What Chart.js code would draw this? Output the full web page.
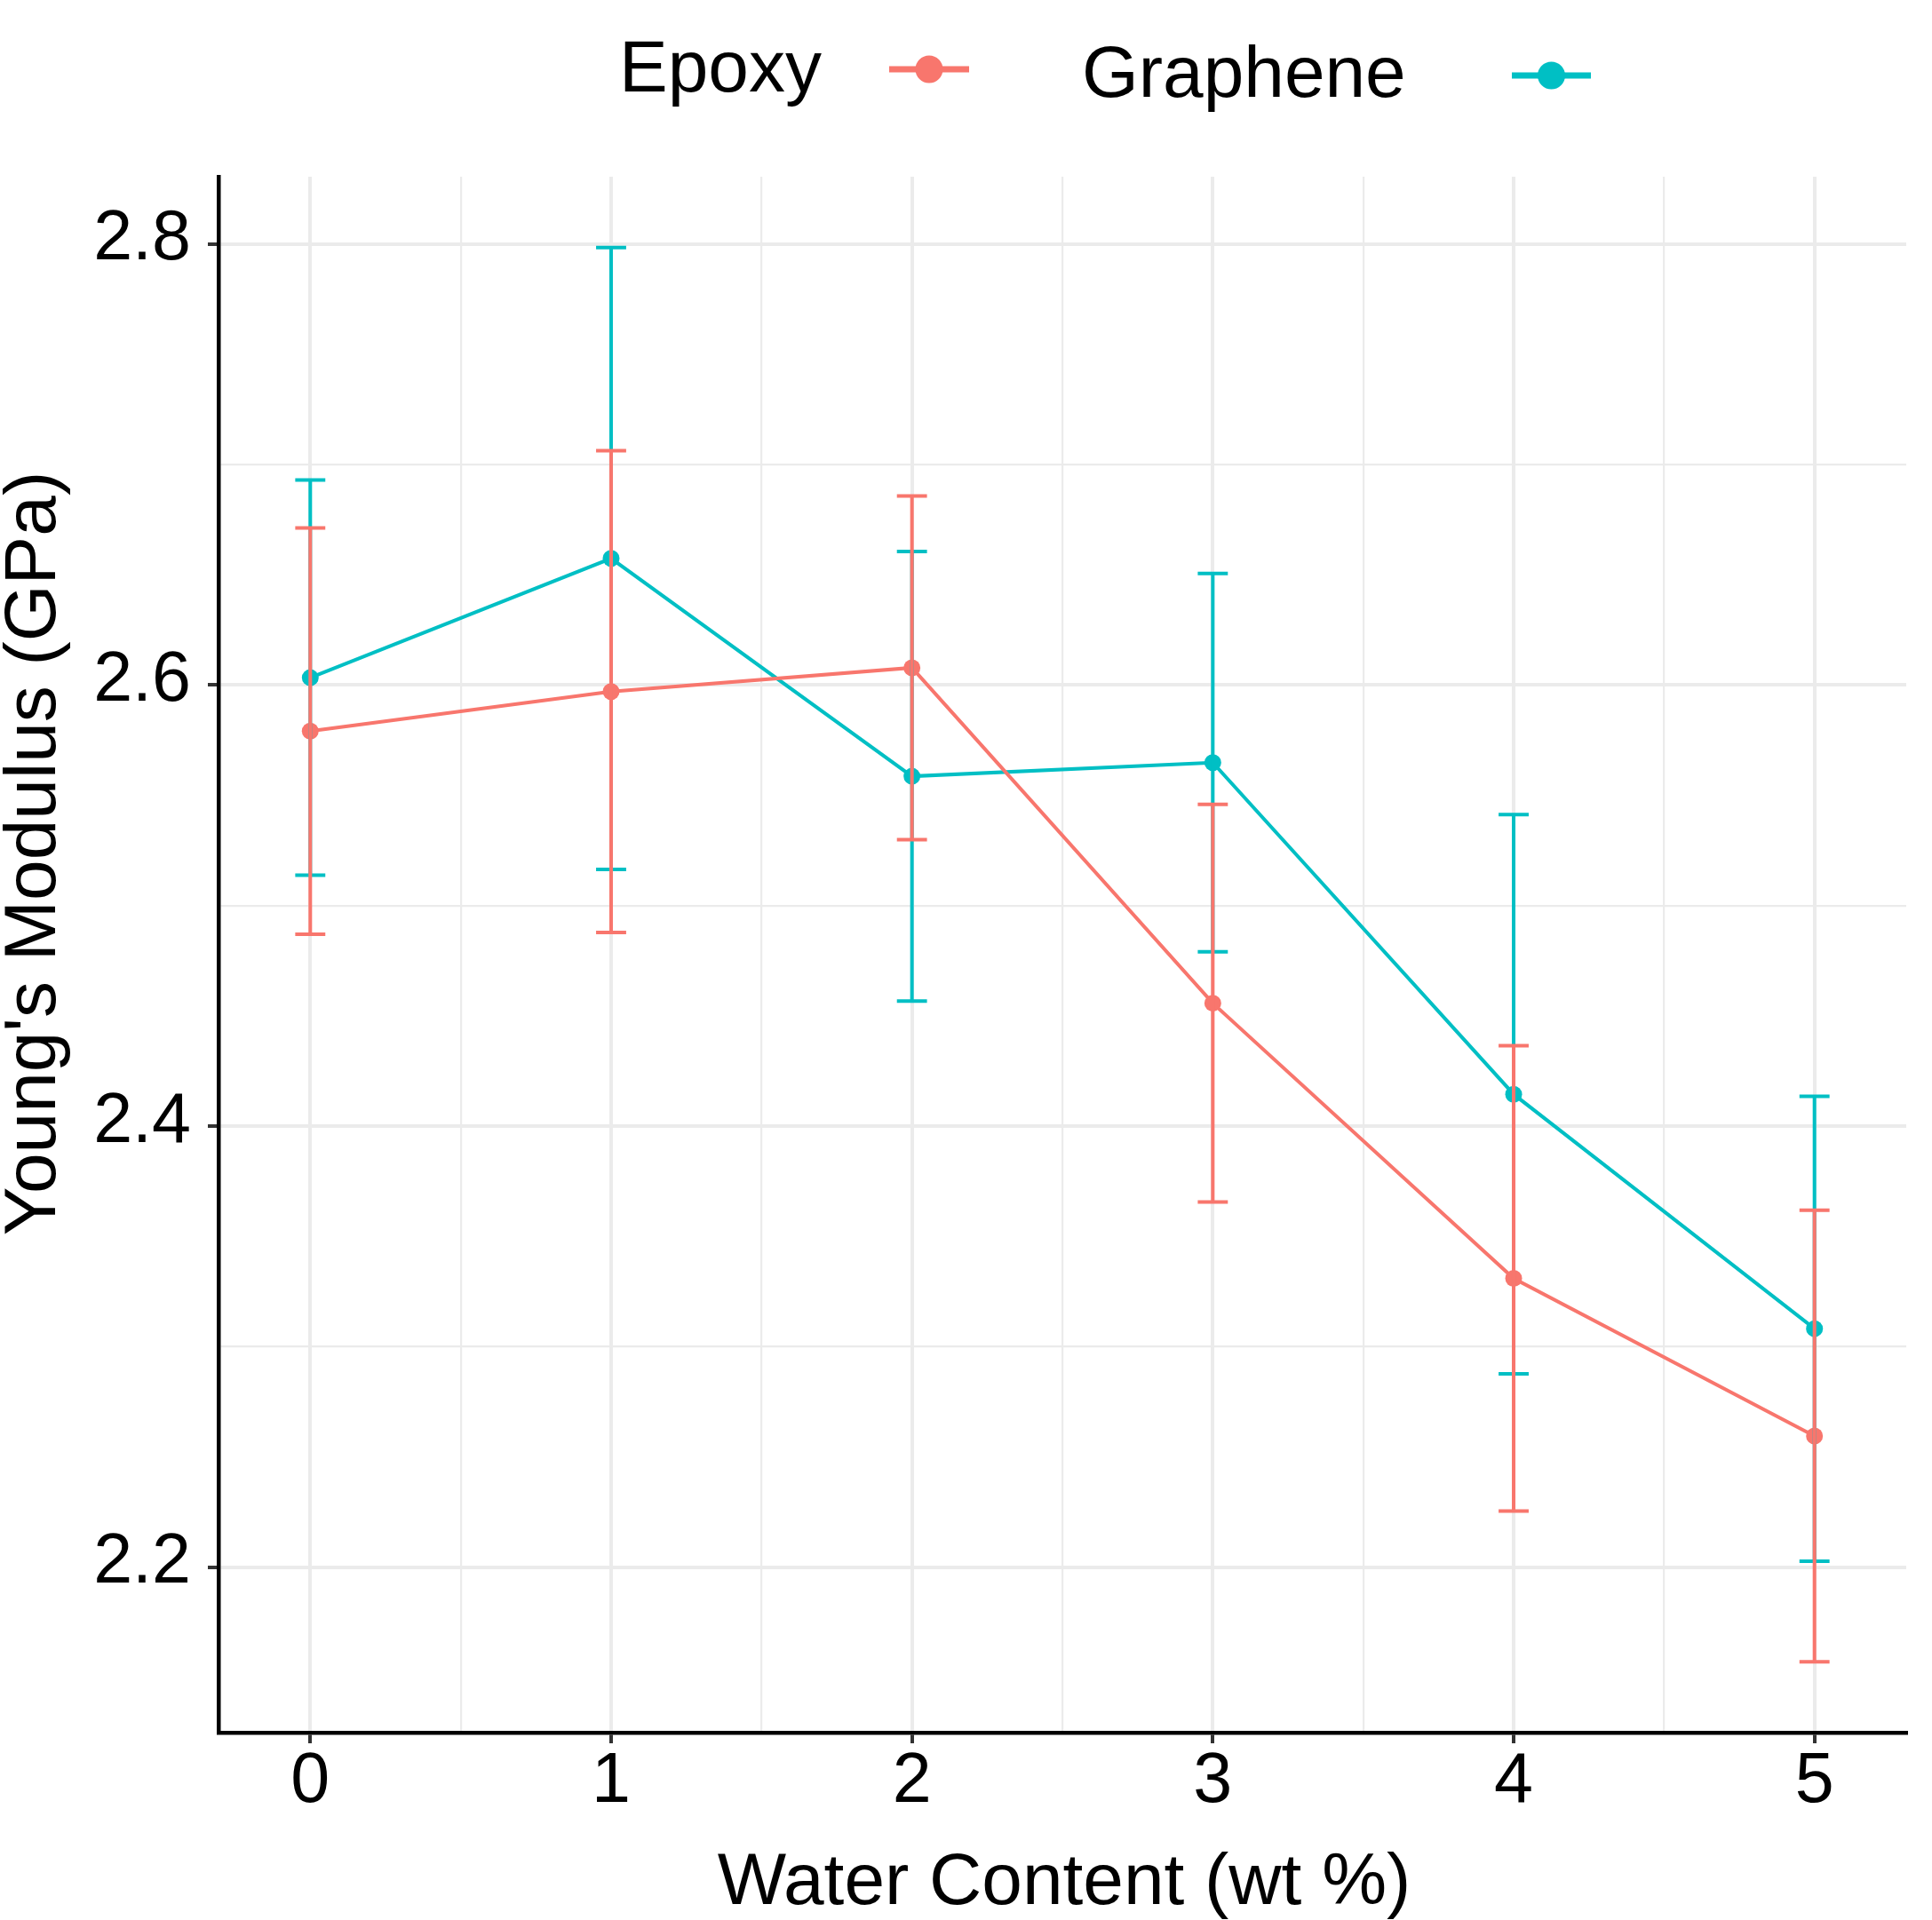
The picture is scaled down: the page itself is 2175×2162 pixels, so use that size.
<!DOCTYPE html>
<html>
<head>
<meta charset="utf-8">
<script src="https://cdn.jsdelivr.net/npm/chart.js@4.4.1/dist/chart.umd.min.js"></script>
<style>
html,body{margin:0;padding:0;background:#ffffff;}
canvas{display:block;}
</style>
</head>
<body>
<canvas id="c" width="2175" height="2162" style="width:2175px;height:2162px"></canvas>
<script>
// ---------------- data ----------------
const waterContent = [0, 1, 2, 3, 4, 5];
const seriesNames = ['Epoxy', 'Graphene'];
const epoxyMean = [2.5791, 2.5970, 2.6078, 2.4557, 2.3309, 2.2594];
const epoxySD   = [0.0921, 0.1092, 0.0779, 0.0902, 0.1055, 0.1024];
const grapheneMean = [2.6033, 2.6574, 2.5586, 2.5648, 2.4144, 2.3081];
const grapheneSD   = [0.0896, 0.1410, 0.1019, 0.0858, 0.1268, 0.1054];
const xTickValues = [0, 0.5, 1, 1.5, 2, 2.5, 3, 3.5, 4, 4.5, 5];
const xMajorTicks = [0, 1, 2, 3, 4, 5];
const yTickValues = [2.2, 2.3, 2.4, 2.5, 2.6, 2.7, 2.8];
const yMajorTicks = [2.2, 2.4, 2.6, 2.8];
const xTitle = 'Water Content (wt %)';
const yTitle = "Young's Modulus (GPa)";

// ---------------- style ----------------
const colors = ['#F8766D', '#00BFC4'];
const FONT = '"Liberation Sans", Arial, Helvetica, sans-serif';
const capHalf = 0.05;

// axis limits like ggplot (5% expansion of data+errorbar range)
const allLo = [], allHi = [];
[[epoxyMean, epoxySD], [grapheneMean, grapheneSD]].forEach(([m, s]) => {
  m.forEach((v, i) => { allLo.push(v - s[i]); allHi.push(v + s[i]); });
});
const yLo = Math.min(...allLo), yHi = Math.max(...allHi);
const yPad = (yHi - yLo) * 0.05;
const xLo = Math.min(...waterContent) - capHalf, xHi = Math.max(...waterContent) + capHalf;
const xPad = (xHi - xLo) * 0.05;

const isMajor = (v, arr) => arr.some(m => Math.abs(m - v) < 1e-9);

const mkData = (means) => waterContent.map((x, i) => ({x: x, y: means[i]}));

const errorBarPlugin = {
  id: 'errbars',
  afterDatasetsDraw(chart) {
    const {ctx, scales: {x, y}} = chart;
    ctx.save();
    ctx.lineWidth = 4;
    ctx.lineCap = 'butt';
    [1, 0].forEach(di => {
      const ds = chart.data.datasets[di];
      ctx.strokeStyle = ds.borderColor;
      ds.data.forEach((p, i) => {
        const sd = ds.sd[i];
        const px = x.getPixelForValue(p.x);
        const xl = x.getPixelForValue(p.x - capHalf);
        const xr = x.getPixelForValue(p.x + capHalf);
        const yt = y.getPixelForValue(p.y + sd);
        const yb = y.getPixelForValue(p.y - sd);
        ctx.beginPath();
        ctx.moveTo(px, yt); ctx.lineTo(px, yb);
        ctx.moveTo(xl, yt); ctx.lineTo(xr, yt);
        ctx.moveTo(xl, yb); ctx.lineTo(xr, yb);
        ctx.stroke();
      });
    });
    ctx.restore();
  }
};

const decorPlugin = {
  id: 'decor',
  afterDraw(chart) {
    const ctx = chart.ctx;
    const ca = chart.chartArea;
    ctx.save();
    ctx.fillStyle = '#000000';
    ctx.font = '82px ' + FONT;
    ctx.textBaseline = 'alphabetic';
    // x title
    ctx.textAlign = 'center';
    ctx.fillText(xTitle, 1198, 2144);
    // y title
    ctx.save();
    ctx.translate(62, 961);
    ctx.rotate(-Math.PI / 2);
    ctx.fillText(yTitle, 0, 0);
    ctx.restore();
    // legend
    const items = [
      {label: seriesNames[0], tx: 697, ty: 103, kx1: 1001, kx2: 1091, ky: 78, color: colors[0]},
      {label: seriesNames[1], tx: 1218, ty: 109, kx1: 1702, kx2: 1791, ky: 85, color: colors[1]}
    ];
    ctx.textAlign = 'left';
    items.forEach(it => {
      ctx.fillStyle = '#000000';
      ctx.fillText(it.label, it.tx, it.ty);
      ctx.strokeStyle = it.color;
      ctx.lineWidth = 7;
      ctx.beginPath();
      ctx.moveTo(it.kx1, it.ky); ctx.lineTo(it.kx2, it.ky);
      ctx.stroke();
      ctx.fillStyle = it.color;
      ctx.beginPath();
      ctx.arc((it.kx1 + it.kx2) / 2, it.ky, 15.5, 0, Math.PI * 2);
      ctx.fill();
    });
    ctx.restore();
  }
};

const chart = new Chart(document.getElementById('c'), {
  type: 'line',
  data: {
    datasets: [
      {label: seriesNames[0], data: mkData(epoxyMean), sd: epoxySD,
       borderColor: colors[0], backgroundColor: colors[0], pointBackgroundColor: colors[0],
       borderWidth: 4, pointRadius: 9.5, pointBorderWidth: 0, pointHoverRadius: 9.5, tension: 0, fill: false},
      {label: seriesNames[1], data: mkData(grapheneMean), sd: grapheneSD,
       borderColor: colors[1], backgroundColor: colors[1], pointBackgroundColor: colors[1],
       borderWidth: 4, pointRadius: 9.5, pointBorderWidth: 0, pointHoverRadius: 9.5, tension: 0, fill: false}
    ]
  },
  options: {
    responsive: false,
    animation: false,
    devicePixelRatio: 1,
    events: [],
    layout: {padding: {left: 0, top: 199, right: 29, bottom: 0}},
    plugins: {legend: {display: false}, tooltip: {enabled: false}, title: {display: false}},
    scales: {
      x: {
        type: 'linear',
        min: xLo - xPad,
        max: xHi + xPad,
        afterBuildTicks: (s) => { s.ticks = xTickValues.map(v => ({value: v})); },
        afterFit: (s) => { s.height = 211; },
        grid: {
          color: '#EBEBEB',
          lineWidth: (c) => isMajor(c.tick.value, xMajorTicks) ? 4 : 2.2,
          drawTicks: true,
          tickLength: 12,
          tickColor: (c) => isMajor(c.tick.value, xMajorTicks) ? '#333333' : 'rgba(0,0,0,0)',
          tickWidth: 4
        },
        border: {display: true, color: '#000000', width: 4.5},
        ticks: {
          autoSkip: false,
          maxRotation: 0,
          padding: 5,
          color: '#000000',
          font: {family: FONT, size: 79, lineHeight: 1},
          callback: (v) => isMajor(v, xMajorTicks) ? String(Math.round(v)) : ''
        }
      },
      y: {
        type: 'linear',
        min: yLo - yPad,
        max: yHi + yPad,
        afterBuildTicks: (s) => { s.ticks = yTickValues.map(v => ({value: v})); },
        afterFit: (s) => { s.width = 246; },
        grid: {
          color: '#EBEBEB',
          lineWidth: (c) => isMajor(c.tick.value, yMajorTicks) ? 4 : 2.2,
          drawTicks: true,
          tickLength: 12,
          tickColor: (c) => isMajor(c.tick.value, yMajorTicks) ? '#333333' : 'rgba(0,0,0,0)',
          tickWidth: 4
        },
        border: {display: true, color: '#000000', width: 4.5},
        ticks: {
          autoSkip: false,
          padding: 19,
          labelOffset: -4,
          color: '#000000',
          font: {family: FONT, size: 79, lineHeight: 1},
          callback: (v) => isMajor(v, yMajorTicks) ? v.toFixed(1) : ''
        }
      }
    }
  },
  plugins: [errorBarPlugin, decorPlugin]
});
</script>
</body>
</html>
